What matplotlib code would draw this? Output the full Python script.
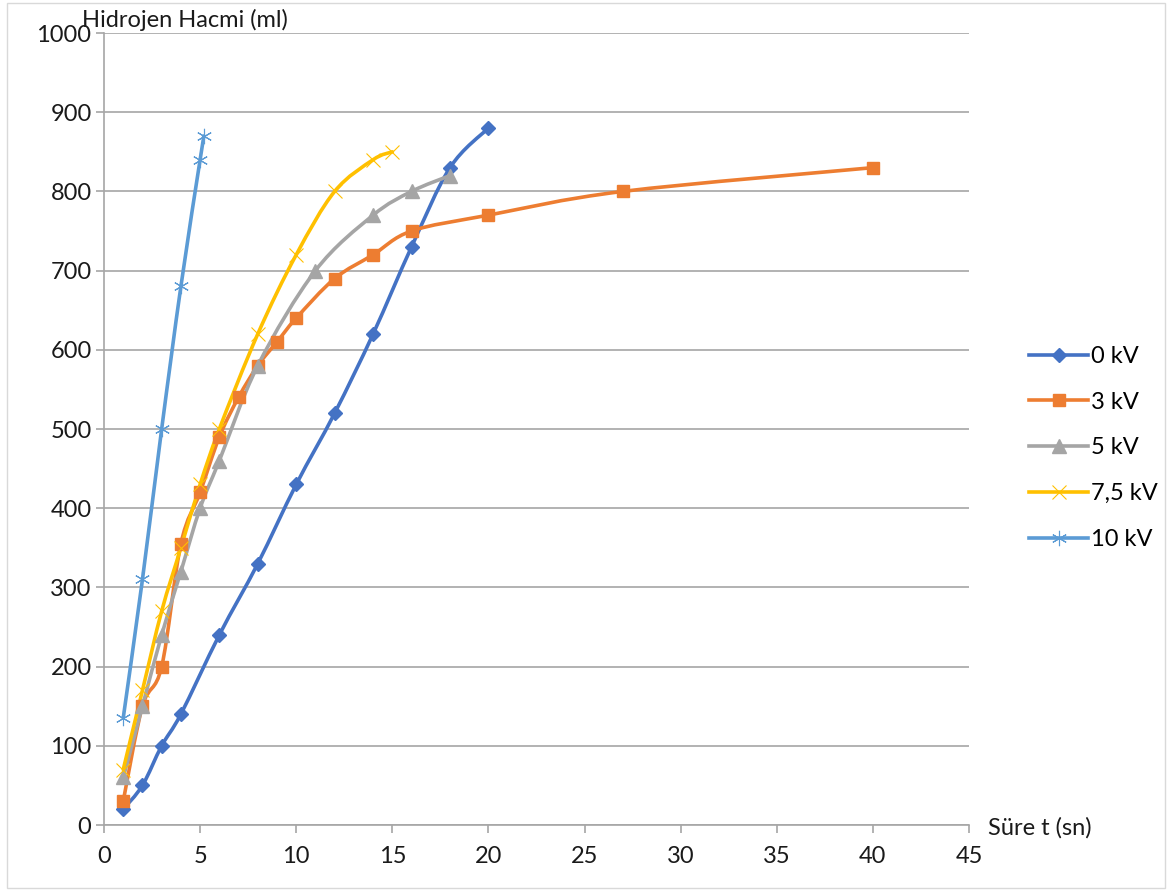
import matplotlib.pyplot as plt
import numpy as np
from matplotlib.path import Path
from matplotlib.patches import PathPatch, Rectangle
from matplotlib.lines import Line2D

plt.rcParams['font.family'] = ['Lato', 'DejaVu Sans']

# ------------------------------------------------------------
# Data: hydrogen volume (ml) vs time (s) at different voltages
# ------------------------------------------------------------
t_0kv = [1, 2, 3, 4, 6, 8, 10, 12, 14, 16, 18, 20]
v_0kv = [20, 50, 100, 140, 240, 330, 430, 520, 620, 730, 830, 880]

t_3kv = [1, 2, 3, 4, 5, 6, 7, 8, 9, 10, 12, 14, 16, 20, 27, 40]
v_3kv = [30, 150, 200, 355, 420, 490, 540, 580, 610, 640, 690, 720, 750, 770, 800, 830]

t_5kv = [1, 2, 3, 4, 5, 6, 8, 11, 14, 16, 18]
v_5kv = [60, 150, 240, 320, 400, 460, 580, 700, 770, 800, 820]

t_75kv = [1, 2, 3, 4, 5, 6, 8, 10, 12, 14, 15]
v_75kv = [70, 170, 270, 350, 430, 500, 620, 720, 800, 840, 850]

t_10kv = [1, 2, 3, 4, 5, 5.2]
v_10kv = [135, 310, 500, 680, 840, 870]

labels = ["0 kV", "3 kV", "5 kV", "7,5 kV", "10 kV"]

series = [
    (t_0kv, v_0kv, dict(color="#4472C4", marker="D", ms=7.5, mfc="#4472C4", mec="#4472C4", mew=1)),
    (t_3kv, v_3kv, dict(color="#ED7D31", marker="s", ms=8.5, mfc="#ED7D31", mec="#ED7D31", mew=1)),
    (t_5kv, v_5kv, dict(color="#A5A5A5", marker="^", ms=9.5, mfc="#A5A5A5", mec="#A5A5A5", mew=1)),
    (t_75kv, v_75kv, dict(color="#FFC000", marker="x", ms=10, mfc="none", mec="#FFC000", mew=0.8)),
    (t_10kv, v_10kv, dict(color="#5B9BD5", marker=(6, 2, 0), ms=11, mfc="none", mec="#5B9BD5", mew=0.8)),
]


def smooth_path(x, y):
    # Excel-style smoothed line: cubic bezier through the points
    p = np.column_stack([x, y]).astype(float)
    ext = np.vstack([p[0], p, p[-1]])
    verts = [p[0]]
    codes = [Path.MOVETO]
    for i in range(len(p) - 1):
        p0, p1, p2, p3 = ext[i], ext[i + 1], ext[i + 2], ext[i + 3]
        c1 = p1 + (p2 - p0) / 6.0
        c2 = p2 - (p3 - p1) / 6.0
        verts += [c1, c2, p2]
        codes += [Path.CURVE4] * 3
    return Path(verts, codes)


fig = plt.figure(figsize=(11.68, 8.91), dpi=100)
ax = fig.add_axes([104 / 1168, 66 / 891, 865 / 1168, 792 / 891])

grid_c = "#A6A6A6"
fs = 17
handles = []
for (tx, vy, st) in series:
    patch = PathPatch(smooth_path(tx, vy), facecolor="none", edgecolor=st["color"],
                      lw=2.6, capstyle="round", joinstyle="round")
    ax.add_patch(patch)
    ax.plot(tx, vy, linestyle="none", marker=st["marker"], ms=st["ms"],
            mfc=st["mfc"], mec=st["mec"], mew=st["mew"])
    handles.append(Line2D([], [], color=st["color"], lw=2.6, marker=st["marker"],
                          ms=st["ms"], mfc=st["mfc"], mec=st["mec"], mew=st["mew"]))

ax.set_xlim(0, 45)
ax.set_ylim(0, 1000)
ax.set_xticks(np.arange(0, 46, 5))
ax.set_yticks(np.arange(0, 1001, 100))

ax.grid(axis="y", color=grid_c, lw=1.2)
ax.set_axisbelow(True)
for s in ["top", "right"]:
    ax.spines[s].set_visible(False)
for s in ["left", "bottom"]:
    ax.spines[s].set_color(grid_c)
    ax.spines[s].set_linewidth(1.2)
ax.tick_params(axis="both", direction="out", length=6, width=1.2, color=grid_c,
               labelsize=fs, labelcolor="#1a1a1a")
ax.tick_params(axis="x", pad=9)
ax.tick_params(axis="y", pad=3)

# axis titles placed like Excel
fig.text(82 / 1168, 1 - 27 / 891, "Hidrojen Hacmi (ml)", fontsize=fs,
         ha="left", va="baseline", color="#1a1a1a")
fig.text(988 / 1168, 1 - 828 / 891, "Süre t (sn)", fontsize=fs,
         ha="left", va="center", color="#1a1a1a")

fig.legend(handles, labels, loc="center left", bbox_to_anchor=(1020 / 1168, 1 - 448 / 891),
           frameon=False, fontsize=fs, handlelength=2.5, handletextpad=0.1,
           labelspacing=1.05, borderaxespad=0)

fig.add_artist(Rectangle((7 / 1168, 3 / 891), 1158 / 1168, 885 / 891,
                         transform=fig.transFigure, fill=False, ec="#D9D9D9", lw=1))

fig.savefig("out.png", dpi=100)
